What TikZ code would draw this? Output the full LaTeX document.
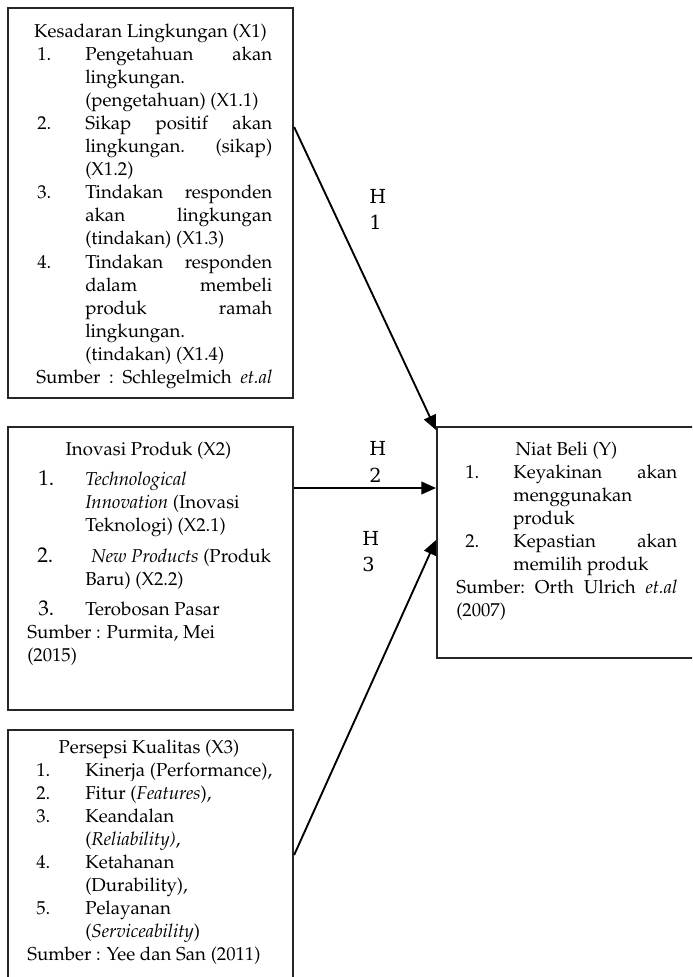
\documentclass[tikz,border=0pt]{standalone}
\usepackage{fontspec}
\usepackage[T1]{fontenc}
\usepackage{mathpazo}
\newfontfamily\hfont{DejaVu Serif}
\usetikzlibrary{arrows.meta}
\newdimen\pxu \pxu=0.75pt
\newcommand\jl[2]{\hbox to #1\pxu{#2}}
\tikzset{
 box/.style={draw=black!85, line width=1.6pt, anchor=north west, inner sep=0},
 txt/.style={inner sep=0, anchor=base west, font=\fontsize{14pt}{17pt}\selectfont},
 ttl/.style={txt, anchor=base},
 big/.style={txt, font=\fontsize{16pt}{18pt}\selectfont},
 hlab/.style={inner sep=0, anchor=base west, font=\hfont\fontsize{14.5pt}{16pt}\selectfont},
 arr/.style={line width=1.4pt, -{Triangle[length=11pt,width=9.5pt]}},
}
\begin{document}
\begin{tikzpicture}[x=0.75pt,y=-0.75pt]
\useasboundingbox (0,0) rectangle (692,977);
\clip (0,0) rectangle (692,977);
\fill[white] (0,0) rectangle (692,977);

% Box X1
\node[box, minimum width={285*0.75pt}, minimum height={390*0.75pt}] (b1) at (7,7) {};
\node[ttl] (b1t) at (150.5,37.5) {Kesadaran Lingkungan (X1)};
\node[txt] (b1n1) at (37,60.6) {1.};
\node[txt] (b1l1) at (85,60.6) {\jl{187}{Pengetahuan\hfill akan}};
\node[txt] (b1l2) at (85,83.6) {lingkungan.};
\node[txt] (b1l3) at (85,106.7) {(pengetahuan) (X1.1)};
\node[txt] (b1n2) at (37,129.7) {2.};
\node[txt] (b1l4) at (85,129.7) {\jl{187}{Sikap\hfill positif\hfill akan}};
\node[txt] (b1l5) at (85,152.8) {\jl{187}{lingkungan.\hfill (sikap)}};
\node[txt] (b1l6) at (85,175.8) {(X1.2)};
\node[txt] (b1n3) at (37,198.9) {3.};
\node[txt] (b1l7) at (85,198.9) {\jl{187}{Tindakan\hfill responden}};
\node[txt] (b1l8) at (85,221.9) {\jl{187}{akan\hfill lingkungan}};
\node[txt] (b1l9) at (85,244.9) {(tindakan) (X1.3)};
\node[txt] (b1n4) at (37,268.0) {4.};
\node[txt] (b1l10) at (85,268.0) {\jl{187}{Tindakan\hfill responden}};
\node[txt] (b1l11) at (85,291.0) {\jl{187}{dalam\hfill membeli}};
\node[txt] (b1l12) at (85,314.1) {\jl{187}{produk\hfill ramah}};
\node[txt] (b1l13) at (85,337.1) {lingkungan.};
\node[txt] (b1l14) at (85,360.2) {(tindakan) (X1.4)};
\node[txt] (b1s) at (36,383.2) {\jl{236}{Sumber\hfill :\hfill Schlegelmich\hfill \textit{et.al}}};

% Box X2
\node[box, minimum width={285*0.75pt}, minimum height={283*0.75pt}] (b2) at (7,426) {};
\node[ttl] (b2t) at (148.5,455) {Inovasi Produk (X2)};
\node[big] (b2n1) at (38,485) {1.};
\node[txt] (b2l1) at (85,485) {\textit{Technological}};
\node[txt] (b2l2) at (85,508) {\textit{Innovation} (Inovasi};
\node[txt] (b2l3) at (85,531) {Teknologi) (X2.1)};
\node[big] (b2n2) at (37,562) {2.};
\node[txt] (b2l4) at (91,562) {\textit{New Products} (Produk};
\node[txt] (b2l5) at (85,585) {Baru) (X2.2)};
\node[big] (b2n3) at (38,615) {3.};
\node[txt] (b2l6) at (85,615) {Terobosan Pasar};
\node[txt] (b2s1) at (27,638.5) {Sumber : Purmita, Mei};
\node[txt] (b2s2) at (27,661) {(2015)};

% Box X3
\node[box, minimum width={285*0.75pt}, minimum height={270*0.75pt}] (b3) at (7,729) {};
\node[ttl] (b3t) at (149,753) {Persepsi Kualitas (X3)};
\node[txt] (b3n1) at (36,776) {1.};
\node[txt] (b3l1) at (85,776) {Kinerja (Performance),};
\node[txt] (b3n2) at (36,799) {2.};
\node[txt] (b3l2) at (85,799) {Fitur (\textit{Features}),};
\node[txt] (b3n3) at (36,822) {3.};
\node[txt] (b3l3) at (85,822) {Keandalan};
\node[txt] (b3l4) at (85,845) {(\textit{Reliability)},};
\node[txt] (b3n4) at (36,868) {4.};
\node[txt] (b3l5) at (85,868) {Ketahanan};
\node[txt] (b3l6) at (85,891) {(Durability),};
\node[txt] (b3n5) at (36,914) {5.};
\node[txt] (b3l7) at (85,914) {Pelayanan};
\node[txt] (b3l8) at (85,937) {(\textit{Serviceability})};
\node[txt] (b3s) at (27,960) {Sumber : Yee dan San (2011)};

% Box Y
\node[box, minimum width={270*0.75pt}, minimum height={231*0.75pt}] (by) at (436,426) {};
\node[ttl] (byt) at (566.5,455) {Niat Beli (Y)};
\node[txt] (byn1) at (465,478) {1.};
\node[txt] (byl1) at (513,478) {\jl{164}{Keyakinan\hfill akan}};
\node[txt] (byl2) at (513,501) {menggunakan};
\node[txt] (byl3) at (513,524) {produk};
\node[txt] (byn2) at (465,547) {2.};
\node[txt] (byl4) at (513,547) {\jl{164}{Kepastian\hfill akan}};
\node[txt] (byl5) at (513,570) {memilih produk};
\node[txt] (bys1) at (456,593) {\jl{221}{Sumber:\hfill Orth\hfill Ulrich\hfill \textit{et.al}}};
\node[txt] (bys2) at (456,616) {(2007)};

% Hypothesis labels
\node[hlab] (h1a) at (369,203) {H};
\node[hlab] (h1b) at (369,229) {1};
\node[hlab] (h2a) at (369,455) {H};
\node[hlab] (h2b) at (369,482) {2};
\node[hlab] (h3a) at (362,545) {H};
\node[hlab] (h3b) at (362,571) {3};

% Arrows
\draw[arr] (b1.north east |- 0,127) -- (by.north west |- 0,430);
\draw[arr] (b2.north east |- 0,488) -- (by.north west |- 0,488);
\draw[arr] (b3.north east |- 0,855) -- (by.north west |- 0,540);
\end{tikzpicture}
\end{document}
